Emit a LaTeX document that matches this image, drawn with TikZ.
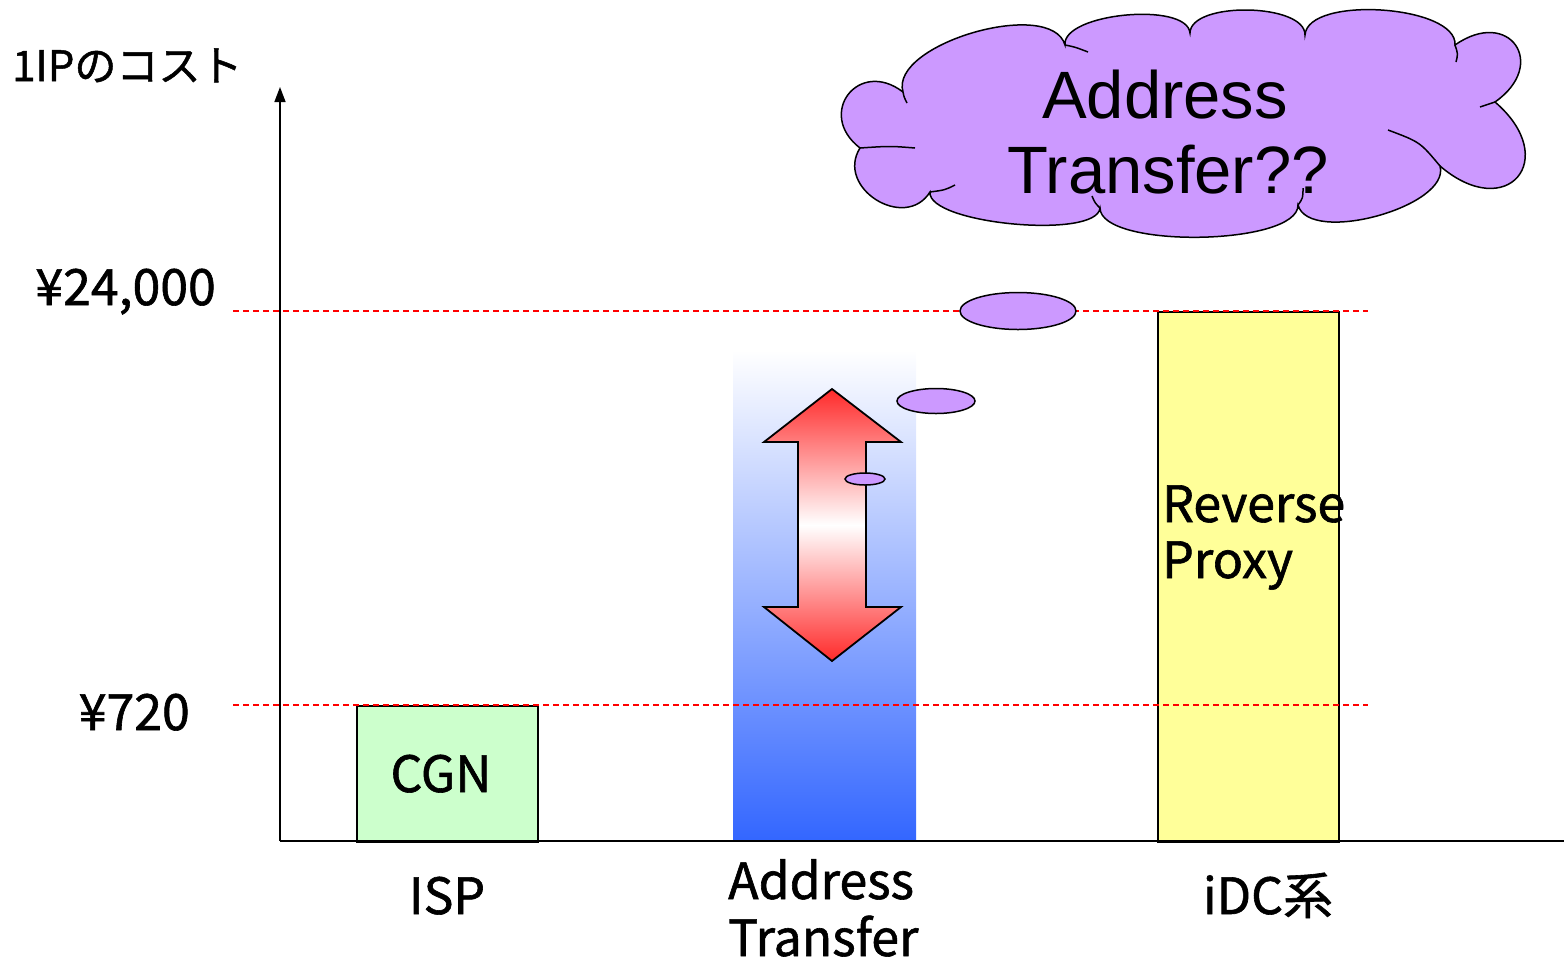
\documentclass[tikz,border=0pt]{standalone}
\usepackage{fontspec}
\setmainfont{Noto Sans CJK JP}[FakeBold=1.2]
\newfontfamily\cloudfont{Liberation Sans}
\usetikzlibrary{calc,arrows.meta,shapes.geometric}
\definecolor{cgngreen}{HTML}{CCFFCC}
\definecolor{proxyyellow}{HTML}{FFFF99}
\definecolor{bubblepurple}{HTML}{CC99FF}
\definecolor{barblue}{HTML}{3366FF}
\definecolor{arrowred}{HTML}{FF2A2A}
\begin{document}
\begin{tikzpicture}[x=1pt,y=-1pt,
  axisline/.style={line width=1.5pt, black},
  guide/.style={red, line width=1.3pt, dash pattern=on 6pt off 4pt},
  barbox/.style={draw=black, line width=2pt},
  bubble/.style={ellipse, draw=black, line width=1.5pt, fill=bubblepurple, inner sep=0pt},
  lbl/.style={font=\fontsize{50}{56}\selectfont, inner sep=0pt},
  price/.style={font=\fontsize{50}{56}\selectfont, inner sep=0pt},
  cloudtxt/.style={font=\cloudfont\fontsize{67}{75}\selectfont, inner sep=0pt},
  cloudline/.style={draw=black, line width=1.5pt}
]
\useasboundingbox (0,0) rectangle (1564,962);

% axes
\coordinate (origin) at (280,841);
\coordinate (ytop) at (280,87);
\coordinate (xend) at (1564,841);

% gradient bar
\shade[top color=white, bottom color=barblue] (733,350) rectangle (916,841);

% bars
\node[barbox, fill=cgngreen, anchor=north west, minimum width=181pt, minimum height=136pt, inner sep=0pt] (cgnbox) at (356,705) {};
\node[barbox, fill=proxyyellow, anchor=north west, minimum width=181pt, minimum height=530pt, inner sep=0pt] (proxybox) at (1157,311) {};

% double arrow
\shadedraw[top color=arrowred, bottom color=arrowred, middle color=white, draw=black, line width=1.8pt, line join=miter]
  (832,389) -- (901,442) -- (866,442) -- (866,607) -- (901,607) -- (832,661)
  -- (764,607) -- (798,607) -- (798,442) -- (764,442) -- cycle;

% guide lines
\coordinate (g1a) at (233,311); \coordinate (g1b) at (1368,311);
\coordinate (g2a) at (233,705); \coordinate (g2b) at (1368,705);
\draw[guide] (g1a) -- (g1b);
\draw[guide] (g2a) -- (g2b);

% axes drawn
\draw[axisline] (origin) -- (xend);
\draw[axisline, -{Triangle[length=15pt,width=11pt]}] (origin) -- (ytop);

% bubbles
\node[bubble, minimum width=40pt, minimum height=12pt] (bub1) at (865,479) {};
\node[bubble, minimum width=78pt, minimum height=25pt] (bub2) at (936,401) {};
\node[bubble, minimum width=116pt, minimum height=37pt] (bub3) at (1018,311) {};

% cloud
\coordinate (cA) at (903,92);
\coordinate (cB) at (1065,45);
\coordinate (cC) at (1190,33);
\coordinate (cD) at (1305,35);
\coordinate (cE) at (1455,45);
\coordinate (cF) at (1495,102);
\coordinate (cG) at (1440,166);
\coordinate (cH) at (1298,205);
\coordinate (cI) at (1100,208);
\coordinate (cJ) at (930,192);
\coordinate (cK) at (860,148);
\filldraw[cloudline, fill=bubblepurple]
  (cA) .. controls ($(cA)!50pt!90:(cB)$) and ($(cB)!50pt!-90:(cA)$) .. (cB)
       .. controls ($(cB)!32pt!90:(cC)$) and ($(cC)!32pt!-90:(cB)$) .. (cC)
       .. controls ($(cC)!32pt!90:(cD)$) and ($(cD)!32pt!-90:(cC)$) .. (cD)
       .. controls ($(cD)!40pt!90:(cE)$) and ($(cE)!40pt!-90:(cD)$) .. (cE)
       .. controls ($(cE)!66pt!90:(cF)$) and ($(cF)!66pt!-90:(cE)$) .. (cF)
       .. controls ($(cF)!88pt!90:(cG)$) and ($(cG)!88pt!-90:(cF)$) .. (cG)
       .. controls ($(cG)!42pt!90:(cH)$) and ($(cH)!42pt!-90:(cG)$) .. (cH)
       .. controls ($(cH)!41pt!90:(cI)$) and ($(cI)!41pt!-90:(cH)$) .. (cI)
       .. controls ($(cI)!32pt!90:(cJ)$) and ($(cJ)!32pt!-90:(cI)$) .. (cJ)
       .. controls ($(cJ)!47pt!90:(cK)$) and ($(cK)!47pt!-90:(cJ)$) .. (cK)
       .. controls ($(cK)!56pt!90:(cA)$) and ($(cA)!56pt!-90:(cK)$) .. (cA)
  -- cycle;
% inner arcs of the cloud
\draw[cloudline] (cK) .. controls (890,146) .. (915,148);
\draw[cloudline] (cG) .. controls (1420,142) .. (1388,130);
\draw[cloudline] (cH) .. controls (1303,198) .. (1303,188);
\draw[cloudline] (cI) .. controls (1095,203) .. (1092,196);
\draw[cloudline] (cJ) .. controls (945,190) .. (955,185);
\draw[cloudline] (cA) .. controls (904,97) .. (907,103);
\draw[cloudline] (cB) .. controls (1075,47) .. (1088,52);
\draw[cloudline] (cE) .. controls (1458,54) .. (1456,62);
\draw[cloudline] (cF) .. controls (1488,104) .. (1480,107);

\node[cloudtxt, anchor=base] (ct1) at (1165,118) {Address};
\node[cloudtxt, anchor=base] (ct2) at (1168,193) {Transfer??};

% labels
\node[font=\fontsize{42}{48}\selectfont, inner sep=0pt, anchor=base west] (ylabel) at (12,81) {1IPのコスト};
\node[price, anchor=base east] (p1) at (216,305) {¥24,000};
\node[price, anchor=base east] (p2) at (190,730) {¥720};
\node[lbl, anchor=base] (cgntxt) at (441,792) {CGN};
\node[lbl, anchor=base] (isptxt) at (447,914) {ISP};
\node[lbl, anchor=base west] (at1) at (728,899) {Address};
\node[lbl, anchor=base west] (at2) at (728,956) {Transfer};
\node[lbl, anchor=base] (idctxt) at (1268,914) {iDC系};
\node[lbl, anchor=base west] (rp1) at (1162,522) {Reverse};
\node[lbl, anchor=base west] (rp2) at (1162,578) {Proxy};
\end{tikzpicture}
\end{document}
